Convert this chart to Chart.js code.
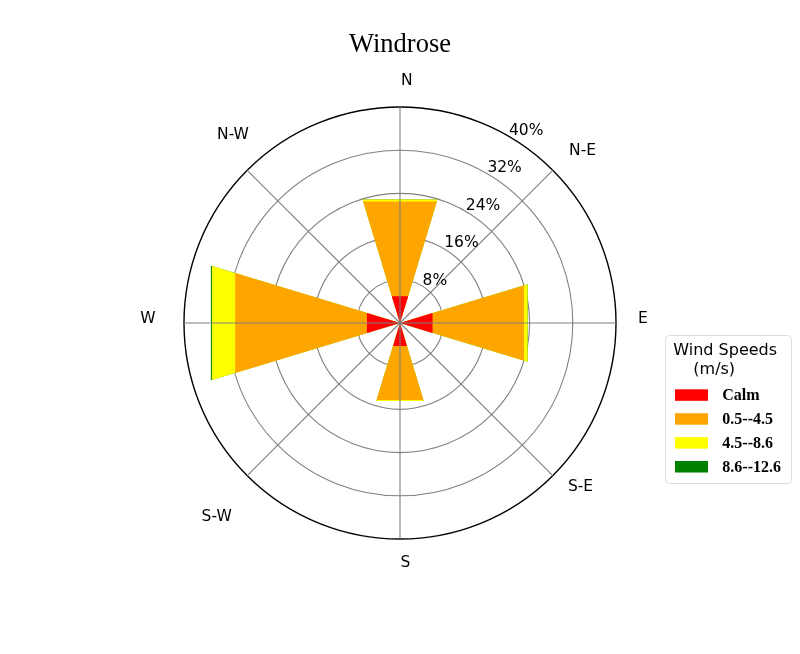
<!DOCTYPE html>
<html>
<head>
<meta charset="utf-8">
<script src="https://cdn.jsdelivr.net/npm/chart.js@4.4.1/dist/chart.umd.min.js"></script>
<style>
  html, body { margin: 0; padding: 0; background: #fff; }
  #wrap { width: 800px; height: 654px; }
</style>
</head>
<body>
<div id="wrap"><canvas id="c" width="800" height="654"></canvas></div>
<script>
// ---------------- data ----------------
const directions = ['N', 'N-E', 'E', 'S-E', 'S', 'S-W', 'W', 'N-W'];
const speedBins = ['Calm', '0.5--4.5', '4.5--8.6', '8.6--12.6'];
const calm      = [5.2, 0, 6.3, 0, 4.45, 0, 6.4, 0];
const speed1    = [18.3, 0, 17.7, 0, 10.45, 0, 25.5, 0];
const speed2    = [0.4, 0, 0.7, 0, 0.2, 0, 4.5, 0];
const speed3    = [0, 0, 0, 0, 0, 0, 0.2, 0];
const rTickValues = [0, 8, 16, 24, 32, 40];
const binColors = ['#ff0000', '#ffa500', '#ffff00', '#008000'];

// ---------------- geometry helpers (angular resolution of the radial scale) ----------------
const SUB = 8;                       // sub-steps per 45 degrees
const N_SLOTS = directions.length * SUB;
const HALF_W = 3;                    // bar half width in sub-steps (16.875 deg)

function cumulative(series) {
  const out = [];
  let acc = directions.map(() => 0);
  series.forEach(s => { acc = acc.map((v, i) => v + s[i]); out.push(acc.slice()); });
  return out;
}
function ring(cum) {
  const arr = new Array(N_SLOTS).fill(null);
  cum.forEach((v, k) => {
    const c = k * SUB;
    arr[(c - HALF_W + N_SLOTS) % N_SLOTS] = v;
    arr[(c + HALF_W) % N_SLOTS] = v;
    arr[(c + SUB / 2) % N_SLOTS] = 0;
  });
  return arr;
}
const cums = cumulative([calm, speed1, speed2, speed3]);
const slotLabels = Array.from({length: N_SLOTS}, (_, i) => (i % SUB === 0 ? directions[i / SUB] : ''));

const GRID_GRAY = '#808080';
// label nudges (style only)
const dirNudge = [[6.7,-0.5],[10.7,-2.2],[0,-6],[8.7,-9.8],[5.3,-4.5],[-11.5,20.2],[-9,-6],[4.8,-18.2]];
const RLABEL_ANGLE = 30;

const overlay = {
  id: 'roseOverlay',
  afterDatasetsDraw(chart) {
    const s = chart.scales.r;
    const ctx = chart.ctx;
    ctx.save();
    // angle lines on top of bars
    ctx.strokeStyle = GRID_GRAY;
    ctx.lineWidth = 1.1;
    directions.forEach((d, k) => {
      const p = s.getPointPosition(k * SUB, s.drawingArea);
      ctx.beginPath();
      ctx.moveTo(s.xCenter, s.yCenter);
      ctx.lineTo(p.x, p.y);
      ctx.stroke();
    });
    // radial tick labels
    ctx.fillStyle = '#000';
    ctx.font = '15.5px "DejaVu Sans"';
    ctx.textAlign = 'left';
    ctx.textBaseline = 'alphabetic';
    const a = RLABEL_ANGLE * Math.PI / 180;
    s.ticks.forEach(t => {
      if (t.value <= 0) return;
      const r = s.getDistanceFromCenterForValue(t.value);
      ctx.fillText(t.label, s.xCenter + r * Math.sin(a) + 1, s.yCenter - r * Math.cos(a) - 1);
    });
    // compass labels
    ctx.textAlign = 'center';
    directions.forEach((d, k) => {
      const p = s.getPointPosition(k * SUB, s.drawingArea + 27);
      ctx.fillText(d, p.x + dirNudge[k][0], p.y + dirNudge[k][1] + 5.6);
    });
    ctx.restore();
  },
  afterDraw(chart) {
    const ctx = chart.ctx;
    ctx.save();
    // legend frame
    const bx = 665.5, by = 335.5, bw = 126, bh = 148, rr = 4;
    ctx.beginPath();
    ctx.moveTo(bx + rr, by);
    ctx.arcTo(bx + bw, by, bx + bw, by + bh, rr);
    ctx.arcTo(bx + bw, by + bh, bx, by + bh, rr);
    ctx.arcTo(bx, by + bh, bx, by, rr);
    ctx.arcTo(bx, by, bx + bw, by, rr);
    ctx.closePath();
    ctx.fillStyle = 'rgba(255,255,255,0.8)';
    ctx.fill();
    ctx.strokeStyle = '#dcdcdc';
    ctx.lineWidth = 1;
    ctx.stroke();
    // legend title
    ctx.fillStyle = '#000';
    ctx.font = '16px "DejaVu Sans"';
    ctx.textAlign = 'left';
    ctx.textBaseline = 'alphabetic';
    ctx.fillText('Wind Speeds', 673.3, 355);
    ctx.fillText('(m/s)', 693.3, 374);
    // entries
    ctx.font = 'bold 16px "Liberation Serif"';
    chart.data.datasets.forEach((ds, i) => {
      const y = 389.3 + i * 23.9;
      ctx.fillStyle = ds.backgroundColor;
      ctx.fillRect(675, y, 33, 11.5);
      ctx.fillStyle = '#000';
      ctx.fillText(ds.label, 722.3, y + 5.75 + 5.3);
    });
    ctx.restore();
  }
};

const datasets = speedBins.map((label, i) => ({
  label: label,
  data: ring(cums[i]),
  backgroundColor: binColors[i],
  borderWidth: 0,
  pointRadius: 0,
  pointHoverRadius: 0,
  fill: 'origin',
  spanGaps: true,
  tension: 0
}));

new Chart(document.getElementById('c'), {
  type: 'radar',
  data: { labels: slotLabels, datasets: datasets },
  options: {
    responsive: false,
    animation: false,
    events: [],
    layout: { padding: { left: 184, right: 184, top: 0, bottom: 115 } },
    plugins: {
      legend: { display: false },
      tooltip: { enabled: false },
      title: {
        display: true,
        text: 'Windrose',
        color: '#000',
        font: { family: 'Liberation Serif', size: 26.5, weight: 'normal' },
        padding: { top: 28.8, bottom: 46.4 }
      }
    },
    scales: {
      r: {
        min: 0,
        max: 40,
        startAngle: 0,
        afterBuildTicks: (scale) => { scale.ticks = rTickValues.map(v => ({ value: v })); },
        ticks: { display: false, callback: (v) => v + '%' },
        pointLabels: { display: false },
        angleLines: { display: false },
        grid: {
          circular: true,
          color: (c) => (c.tick && c.tick.value === 40 ? '#000' : GRID_GRAY),
          lineWidth: (c) => (c.tick && c.tick.value === 40 ? 1.4 : 1.1)
        }
      }
    }
  },
  plugins: [overlay]
});
</script>
</body>
</html>
